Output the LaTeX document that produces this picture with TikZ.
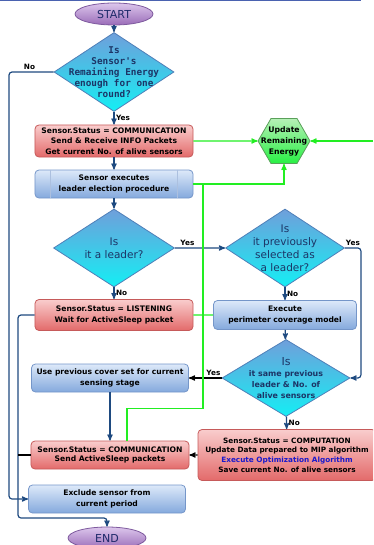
\documentclass[tikz,border=0pt]{standalone}
\usepackage{fontspec}
\setmainfont{DejaVu Sans}
\newfontfamily\monofont[Ligatures=TeXOff]{DejaVu Sans Mono}
\usetikzlibrary{arrows,shapes.geometric}

\definecolor{redtop}{HTML}{F9CDCD}
\definecolor{redbot}{HTML}{E36A6A}
\definecolor{redline}{HTML}{C65A5A}
\definecolor{bluetop}{HTML}{DDE9F9}
\definecolor{bluebot}{HTML}{84A9DD}
\definecolor{blueline}{HTML}{7596C9}
\definecolor{dtop}{HTML}{6F9FDB}
\definecolor{dbot}{HTML}{14EEF4}
\definecolor{dline}{HTML}{4F7FB8}
\definecolor{ptop}{HTML}{DCC6EC}
\definecolor{pbot}{HTML}{9A6CB8}
\definecolor{pline}{HTML}{7E5A9E}
\definecolor{hextop}{HTML}{B6F0B6}
\definecolor{hexbot}{HTML}{28F044}
\definecolor{hexline}{HTML}{5AA05A}
\definecolor{flowcol}{HTML}{1E4A80}
\definecolor{wirecol}{HTML}{22EE22}
\definecolor{optblue}{HTML}{1A1ACC}
\definecolor{termtext}{HTML}{1E2A6A}
\definecolor{dtextcol}{HTML}{1C3566}
\definecolor{rulecol}{HTML}{4A62B0}

\newcommand\boxfont{\fontsize{7.6bp}{10.5bp}\selectfont\bfseries}

\begin{document}
\begin{tikzpicture}[x=1bp,y=-1bp,->,>=stealth',line width=1.2bp,color=flowcol,
  redbox/.style={rectangle,rounded corners=4bp,draw=redline,top color=redtop,bottom color=redbot,
    text=black,align=center,inner sep=1bp,font=\boxfont,line width=0.8bp},
  bluebox/.style={rectangle,rounded corners=4bp,draw=blueline,top color=bluetop,bottom color=bluebot,
    text=black,align=center,inner sep=1bp,font=\boxfont,line width=0.8bp},
  decision/.style={diamond,draw=dline,top color=dtop,bottom color=dbot,inner sep=0pt,line width=0.8bp},
  dtext/.style={align=center,text=dtextcol,font=\fontsize{10.5bp}{13bp}\selectfont},
  dmono/.style={align=center,text=dtextcol,font=\monofont\fontsize{9.35bp}{11bp}\selectfont\bfseries},
  term/.style={ellipse,draw=pline,top color=ptop,bottom color=pbot,minimum width=78bp,minimum height=22bp,
    inner sep=0pt,text=termtext,font=\fontsize{11bp}{13bp}\selectfont,line width=0.8bp},
  hexa/.style={regular polygon,regular polygon sides=6,minimum size=52bp,inner sep=0pt,
    draw=hexline,top color=hextop,bottom color=hexbot,line width=0.8bp},
  lbl/.style={font=\fontsize{7.3bp}{8bp}\selectfont\bfseries,text=black,inner sep=1.5bp},
  energy/.style={draw=wirecol}]
 \clip (0,0) rectangle (373,545);
 \draw[-,rulecol,line width=1bp] (0,1) -- (361,1);

 % left column
 \node[term]    (start) at (114,14) {START};
 \node[decision,minimum width=120bp,minimum height=79bp,
   label={[dmono]center:{Is\\Sensor's\\Remaining Energy\\enough for one\\round?}}]
   (energyok) [below of=start,node distance=58bp] {};
 \node[redbox,minimum width=158bp,minimum height=32bp] (comm1) [below of=energyok,node distance=69bp]
   {Sensor.Status = COMMUNICATION\\Send \& Receive INFO Packets\\Get current No. of alive sensors};
 \node[bluebox,minimum width=158bp,minimum height=28bp] (elect) [below of=comm1,node distance=43bp]
   {Sensor executes\\leader election procedure};
 \node[decision,minimum width=121bp,minimum height=78bp,
   label={[dtext]center:{Is\\it a leader?}}]
   (isleader) [below of=elect,node distance=64bp] {};
 \node[redbox,minimum width=158bp,minimum height=31bp] (listen) [below of=isleader,node distance=67bp]
   {Sensor.Status = LISTENING\\Wait for ActiveSleep packet};

 % right column
 \node[hexa,label={[lbl,align=center,font=\fontsize{7.7bp}{11bp}\selectfont\bfseries]center:{Update\\Remaining\\Energy}}]
   (update) at (284,141) {};
 \node[decision,minimum width=119bp,minimum height=78bp,
   label={[dtext]center:{Is\\it previously\\selected as\\a leader?}}]
   (wasleader) at (285,248) {};
 \node[bluebox,minimum width=143bp,minimum height=29bp] (perim) [below of=wasleader,node distance=67bp]
   {Execute\\perimeter coverage model};
 \node[decision,minimum width=128bp,minimum height=77bp,
   label={[dtext,font=\fontsize{7.9bp}{11bp}\selectfont\bfseries]center:{{\mdseries\fontsize{11bp}{12bp}\selectfont Is}\\it same previous\\leader \& No. of\\alive sensors}}]
   (same) at (286,378) {};
 \node[redbox,minimum width=178bp,minimum height=51bp,font=\fontsize{7.3bp}{9.6bp}\selectfont\bfseries]
   (compute) at (287,455)
   {Sensor.Status = COMPUTATION\\Update Data prepared to MIP algorithm\\
    \textcolor{optblue}{Execute Optimization Algorithm}\\Save current No. of alive sensors};

 % lower left
 \node[bluebox,minimum width=157bp,minimum height=28bp] (usecov) at (110,378)
   {Use previous cover set for current\\sensing stage};
 \node[redbox,minimum width=158bp,minimum height=28bp,font=\fontsize{7.6bp}{9bp}\selectfont\bfseries]
   (comm2) [below of=usecov,node distance=77bp]
   {Sensor.Status = COMMUNICATION\\Send ActiveSleep packets};
 \node[bluebox,minimum width=157bp,minimum height=28bp] (exclude) at (107,499)
   {Exclude sensor from\\current period};
 \node[term] (end) [below of=exclude,node distance=39bp] {END};

 \coordinate (busN) at (9,499);
 \coordinate (busL) at (18,518);
 \coordinate (feed) at (373,141);
 \coordinate (tap)  at (203,184);

 \draw (start) -- (energyok);
 \draw (energyok) -- node[lbl,right]{Yes} (comm1);
 \draw[rounded corners=3bp] (energyok.west) -| node[lbl,above,pos=0.27]{No} (busN) -- (exclude.west);
 \draw (comm1) -- (elect);
 \draw (elect) -- (isleader);
 \draw (isleader) -- node[lbl,above,pos=0.25]{Yes} (wasleader);
 \draw (isleader) -- node[lbl,right]{No} (listen);
 \draw (wasleader) -- node[lbl,right]{No} (perim);
 \draw[rounded corners=3bp] (wasleader.east) -- node[lbl,above]{Yes} ++(16,0) |- (same.east);
 \draw (perim) -- (same);
 \draw[black] (same) -- node[lbl,above,pos=0.25]{Yes} (usecov);
 \draw (same) -- node[lbl,right]{No} (compute);
 \draw[black] (compute) -- (comm2);
 \draw (usecov) -- (comm2);
 \draw[rounded corners=3bp] (listen.west) -| (busL) -| (end.north);
 \draw[-,black] (comm2.west) -- (comm2.west -| busL);

 \draw[energy] (comm1) -- (update);
 \draw[energy] (feed) -- (update);
 \draw[energy] (elect.east) -| (update.south);
 \draw[energy,-] (tap) |- ([xshift=17bp,yshift=32bp]comm2.north) -- ([xshift=17bp]comm2.north);
 \draw[energy,-] (listen) -- (perim);

 \draw[-,blueline!60,line width=0.7bp] ([xshift=16bp]elect.north west) -- ([xshift=16bp]elect.south west);
 \draw[-,blueline!60,line width=0.7bp] ([xshift=-16bp]elect.north east) -- ([xshift=-16bp]elect.south east);
\end{tikzpicture}
\end{document}
